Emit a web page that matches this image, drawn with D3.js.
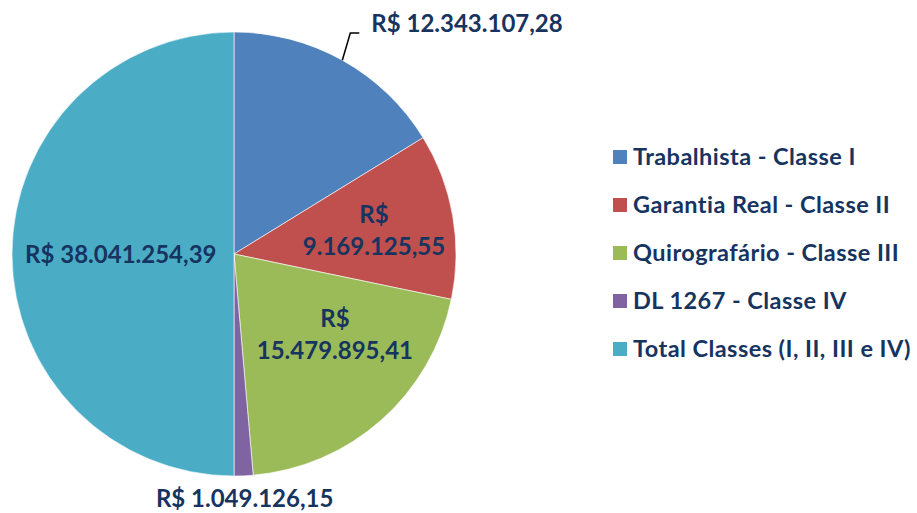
<!DOCTYPE html>
<html>
<head>
<meta charset="utf-8">
<script src="https://cdn.jsdelivr.net/npm/d3@7"></script>
<style>
  body { margin: 0; background: #fff; }
  svg { display: block; font-family: Lato, "Open Sans", sans-serif; font-weight: bold; }
</style>
</head>
<body>
<svg></svg>
<script>
const categories = [
  "Trabalhista - Classe I",
  "Garantia Real - Classe II",
  "Quirografário - Classe III",
  "DL 1267 - Classe IV",
  "Total Classes (I, II, III e IV)"
];
const values = [12343107.28, 9169125.55, 15479895.41, 1049126.15, 38041254.39];
const valueLabels = [
  "R$ 12.343.107,28",
  "R$ 9.169.125,55",
  "R$ 15.479.895,41",
  "R$ 1.049.126,15",
  "R$ 38.041.254,39"
];
const colors = ["#4F81BD", "#C0504D", "#9BBB59", "#8064A2", "#4BACC6"];

const W = 917, H = 513;
const textColor = "#16345F";
const cx = 234, cy = 254, R = 222;

const svg = d3.select("svg").attr("width", W).attr("height", H);

const pie = d3.pie().sort(null).value(d => d)(values);
const arc = d3.arc().innerRadius(0).outerRadius(R);

const g = svg.append("g").attr("transform", `translate(${cx},${cy})`);

g.selectAll("path.slice")
  .data(pie)
  .join("path")
    .attr("class", "slice")
    .attr("d", arc)
    .attr("fill", (d, i) => colors[i])
    .attr("stroke", "#fff")
    .attr("stroke-width", 0.6);

// label placement (radius as fraction of R, label style)
const labelPos = [
  { type: "outside" },
  { type: "inside", r: 0.64, split: true },
  { type: "inside", r: 0.58, angle: -10, split: true },
  { type: "below" },
  { type: "inside", r: 0.51 }
];

const fontSize = 24;
const toXY = (ang, r) => [r * Math.sin(ang), -r * Math.cos(ang)];

pie.forEach((d, i) => {
  const p = labelPos[i];
  const mid = (d.startAngle + d.endAngle) / 2;
  if (p.type === "inside") {
    const [x, y] = toXY(mid + (p.angle || 0) * Math.PI / 180, R * p.r);
    const t = g.append("text")
      .attr("text-anchor", "middle")
      .attr("fill", textColor)
      .attr("font-size", fontSize);
    if (p.split) {
      const parts = valueLabels[i].split(" ");
      t.append("tspan").attr("x", x).attr("y", y - 7).text(parts[0]);
      t.append("tspan").attr("x", x).attr("y", y + 25).text(parts[1]);
    } else {
      t.attr("x", x).attr("y", y + 9).text(valueLabels[i]);
    }
  } else if (p.type === "outside") {
    const [x0, y0] = toXY(mid, R);
    const x1 = x0 + 8, y1 = -R + 1;
    svg.append("path")
      .attr("d", d3.line()([[cx + x0, cy + y0], [cx + x1, cy + y1], [cx + x1 + 9, cy + y1]]))
      .attr("fill", "none")
      .attr("stroke", "#000")
      .attr("stroke-width", 1.5);
    g.append("text")
      .attr("x", x1 + 21)
      .attr("y", y1 - 1)
      .attr("fill", textColor)
      .attr("font-size", fontSize)
      .text(valueLabels[i]);
  } else if (p.type === "below") {
    const [x] = toXY(mid, R);
    g.append("text")
      .attr("x", x + 1)
      .attr("y", R + 31)
      .attr("text-anchor", "middle")
      .attr("fill", textColor)
      .attr("font-size", fontSize)
      .text(valueLabels[i]);
  }
});

// legend
const legend = svg.append("g").attr("transform", "translate(613,157)");
const rows = legend.selectAll("g")
  .data(categories)
  .join("g")
    .attr("transform", (d, i) => `translate(0,${i * 48})`);
rows.append("rect")
  .attr("x", 0).attr("y", -7)
  .attr("width", 14).attr("height", 14)
  .attr("fill", (d, i) => colors[i]);
rows.append("text")
  .attr("x", 20)
  .attr("y", 8)
  .attr("fill", textColor)
  .attr("font-size", 23.5)
  .attr("letter-spacing", 0.45)
  .text(d => d);
</script>
</body>
</html>
